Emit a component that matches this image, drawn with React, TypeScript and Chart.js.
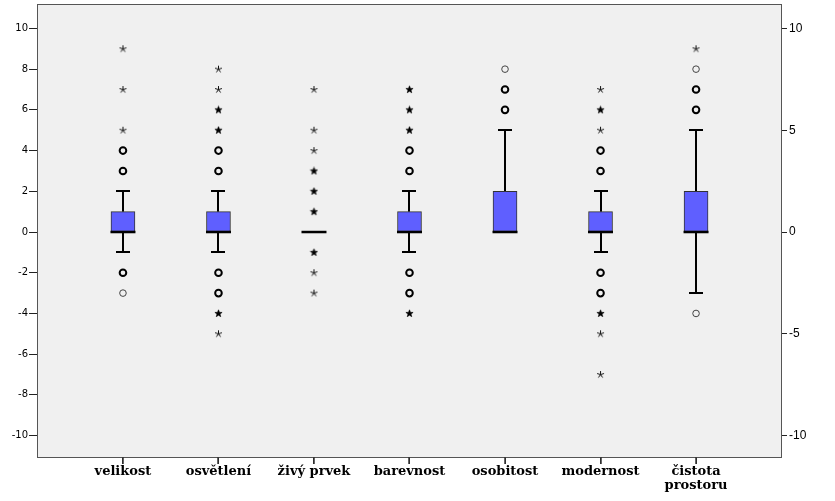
import React, { useEffect, useRef } from "react";
import { Chart, registerables } from "chart.js";

Chart.register(...registerables);

// ---- data ----
const categories: (string | string[])[] = [
  "velikost",
  "osvětlení",
  "živý prvek",
  "barevnost",
  "osobitost",
  "modernost",
  ["čistota", "prostoru"],
];
const q1 = [0, 0, 0, 0, 0, 0, 0];
const medians = [0, 0, 0, 0, 0, 0, 0];
const q3 = [1, 1, 0, 1, 2, 1, 2];
const whiskerLow = [-1, -1, 0, -1, 0, -1, -3];
const whiskerHigh = [2, 2, 0, 2, 5, 2, 5];
// [value, number of cases]
const mildOutliers: number[][][] = [
  [[3, 2], [4, 2], [-2, 2], [-3, 1]],
  [[3, 2], [4, 2], [-2, 2], [-3, 2]],
  [],
  [[3, 2], [4, 2], [-2, 2], [-3, 2]],
  [[6, 2], [7, 2], [8, 1]],
  [[3, 2], [4, 2], [-2, 2], [-3, 2]],
  [[6, 2], [7, 2], [8, 1], [-4, 1]],
];
const extremeOutliers: number[][][] = [
  [[5, 1], [7, 1], [9, 1]],
  [[5, 2], [6, 2], [7, 1], [8, 1], [-4, 2], [-5, 1]],
  [[1, 2], [2, 2], [3, 2], [4, 1], [5, 1], [7, 1], [-1, 2], [-2, 1], [-3, 1]],
  [[5, 2], [6, 2], [7, 2], [-4, 2]],
  [],
  [[5, 1], [6, 2], [7, 1], [-4, 2], [-5, 1], [-7, 1]],
  [[9, 1]],
];
const leftTicks = [-10, -8, -6, -4, -2, 0, 2, 4, 6, 8, 10];
const rightTicks = [-10, -5, 0, 5, 10];
const yMin = -11.1;
const yMax = 11.2;

function makeStar(bold: boolean): HTMLCanvasElement {
  const c = document.createElement("canvas");
  c.width = 9;
  c.height = 9;
  const g = c.getContext("2d")!;
  const cx = 4.5, cy = 4.6;
  if (bold) {
    g.beginPath();
    for (let k = 0; k < 10; k++) {
      const r = k % 2 === 0 ? 3.8 : 1.6;
      const a = -Math.PI / 2 + (k * Math.PI) / 5;
      const px = cx + r * Math.cos(a);
      const py = cy + r * Math.sin(a);
      if (k === 0) g.moveTo(px, py);
      else g.lineTo(px, py);
    }
    g.closePath();
    g.fillStyle = "#000";
    g.fill();
    g.lineWidth = 0.6;
    g.strokeStyle = "#000";
    g.stroke();
  } else {
    g.strokeStyle = "#111";
    g.lineWidth = 1;
    for (let k = 0; k < 5; k++) {
      const a = -Math.PI / 2 + (k * 2 * Math.PI) / 5;
      g.beginPath();
      g.moveTo(cx, cy);
      g.lineTo(cx + 3.6 * Math.cos(a), cy + 3.6 * Math.sin(a));
      g.stroke();
    }
  }
  return c;
}

export default function App() {
  const ref = useRef<HTMLCanvasElement>(null);
  useEffect(() => {
    document.body.style.margin = "0";
    const starBold = makeStar(true);
    const starThin = makeStar(false);

    const mildPts: any[] = [];
    const extPts: any[] = [];
    mildOutliers.forEach((arr, i) => arr.forEach(([v, c]) => mildPts.push({ x: i, y: v, c })));
    extremeOutliers.forEach((arr, i) => arr.forEach(([v, c]) => extPts.push({ x: i, y: v, c })));

    const boxPlugin = {
      id: "boxplot",
      beforeDraw(chart: any) {
        const { ctx, chartArea: a } = chart;
        ctx.save();
        ctx.fillStyle = "#F0F0F0";
        ctx.fillRect(a.left, a.top, a.right - a.left, a.bottom - a.top);
        ctx.restore();
      },
      beforeDatasetsDraw(chart: any) {
        const { ctx, scales } = chart;
        const xs = scales.x, ys = scales.y;
        ctx.save();
        ctx.strokeStyle = "#000";
        ctx.lineWidth = 2;
        categories.forEach((_, i) => {
          const x = Math.round(xs.getPixelForValue(i));
          const segs: [number, number][] = [];
          if (whiskerHigh[i] > q3[i]) segs.push([q3[i], whiskerHigh[i]]);
          if (whiskerLow[i] < q1[i]) segs.push([q1[i], whiskerLow[i]]);
          segs.forEach(([from, to]) => {
            const y0 = ys.getPixelForValue(from);
            const y1 = Math.round(ys.getPixelForValue(to));
            ctx.beginPath();
            ctx.moveTo(x, y0);
            ctx.lineTo(x, y1);
            ctx.stroke();
            ctx.beginPath();
            ctx.moveTo(x - 7, y1);
            ctx.lineTo(x + 7, y1);
            ctx.stroke();
          });
        });
        ctx.restore();
      },
      afterDatasetsDraw(chart: any) {
        const { ctx, scales, chartArea: a } = chart;
        const xs = scales.x, ys = scales.y;
        ctx.save();
        ctx.strokeStyle = "#000";
        ctx.lineWidth = 2.5;
        categories.forEach((_, i) => {
          const x = xs.getPixelForValue(i);
          const y = ys.getPixelForValue(medians[i]);
          ctx.beginPath();
          ctx.moveTo(x - 12.5, y);
          ctx.lineTo(x + 12.5, y);
          ctx.stroke();
        });
        ctx.strokeStyle = "#555";
        ctx.lineWidth = 1;
        ctx.strokeRect(a.left + 0.5, a.top + 0.5, a.right - a.left - 1, a.bottom - a.top - 1);
        ctx.restore();
      },
      afterDraw(chart: any) {
        const { ctx, scales, chartArea: a } = chart;
        const xs = scales.x;
        ctx.save();
        ctx.strokeStyle = "#333";
        ctx.lineWidth = 1.5;
        categories.forEach((_, i) => {
          const x = Math.round(xs.getPixelForValue(i));
          ctx.beginPath();
          ctx.moveTo(x, a.bottom - 1);
          ctx.lineTo(x, a.bottom + 6);
          ctx.stroke();
        });
        ctx.restore();
      },
    };

    const chart = new Chart(ref.current!, {
      type: "bar",
      data: {
        datasets: [
          {
            type: "bar",
            data: categories.map((_, i) => ({ x: i, y: [q1[i], q3[i]] })) as any,
            backgroundColor: "#5F5FFF",
            borderColor: "#333",
            borderWidth: 1,
            borderSkipped: false,
            barThickness: 24,
            yAxisID: "y",
            xAxisID: "x",
          } as any,
          {
            type: "scatter",
            data: mildPts,
            pointStyle: "circle",
            pointRadius: 3.3,
            backgroundColor: "rgba(0,0,0,0)",
            borderColor: (c: any) => (c.raw && c.raw.c > 1 ? "#000" : "#444"),
            pointBorderWidth: (c: any) => (c.raw && c.raw.c > 1 ? 2 : 1),
            yAxisID: "y",
            xAxisID: "x",
          } as any,
          {
            type: "scatter",
            data: extPts,
            pointStyle: (c: any) => (c.raw && c.raw.c > 1 ? starBold : starThin),
            yAxisID: "y",
            xAxisID: "x",
          } as any,
        ],
      },
      options: {
        animation: false,
        responsive: false,
        events: [],
        layout: { autoPadding: false, padding: { top: 4, left: 0, right: 0, bottom: 0 } },
        plugins: { legend: { display: false }, tooltip: { enabled: false } },
        scales: {
          x: {
            type: "linear",
            min: -0.9,
            max: 6.9,
            offset: false,
            afterFit: (s: any) => {
              s.height = 43;
              s.paddingLeft = 0;
              s.paddingRight = 0;
            },
            afterBuildTicks: (s: any) => {
              s.ticks = categories.map((_, i) => ({ value: i }));
            },
            grid: { drawOnChartArea: false, offset: false, tickLength: 6, color: "#222" },
            border: { display: false },
            ticks: {
              autoSkip: false,
              maxRotation: 0,
              padding: 1,
              color: "#000",
              font: { family: "'DejaVu Serif'", weight: "bold", size: 13, lineHeight: 1.05 },
              callback: (v: any) => categories[Math.round(Number(v))] as any,
            },
          },
          y: {
            type: "linear",
            position: "left",
            min: yMin,
            max: yMax,
            afterFit: (s: any) => {
              s.width = 37;
              s.paddingTop = 0;
              s.paddingBottom = 0;
            },
            afterBuildTicks: (s: any) => {
              s.ticks = leftTicks.map((v) => ({ value: v }));
            },
            grid: { drawOnChartArea: false, tickLength: 8, color: "#222" },
            border: { display: false },
            ticks: {
              padding: 1,
              color: "#000",
              font: { family: "'DejaVu Sans'", size: 10 },
            },
          },
          y2: {
            type: "linear",
            position: "right",
            min: yMin,
            max: yMax,
            afterFit: (s: any) => {
              s.width = 53;
              s.paddingTop = 0;
              s.paddingBottom = 0;
            },
            afterBuildTicks: (s: any) => {
              s.ticks = rightTicks.map((v) => ({ value: v }));
            },
            grid: { drawOnChartArea: false, tickLength: 5, color: "#222" },
            border: { display: false },
            ticks: {
              padding: 2,
              color: "#000",
              font: { family: "'Liberation Sans'", size: 12 },
            },
          },
        },
      } as any,
      plugins: [boxPlugin],
    });
    return () => chart.destroy();
  }, []);
  return <canvas ref={ref} width={835} height={501} style={{ display: "block" }} />;
}
